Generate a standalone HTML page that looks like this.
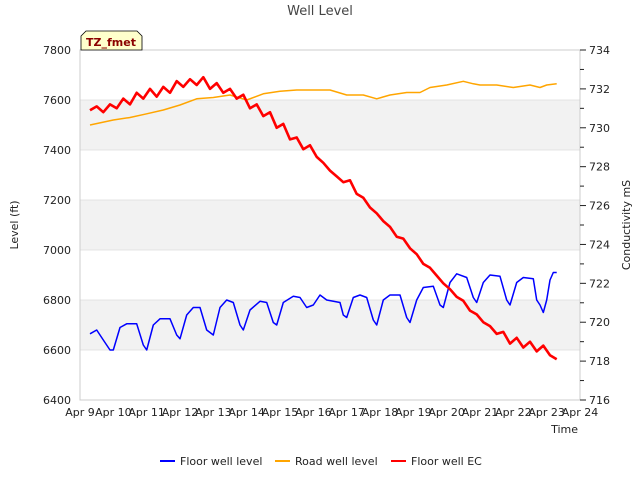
<!DOCTYPE html>
<html><head><meta charset="utf-8"><style>
body{margin:0;background:#fff;font-family:"DejaVu Sans","Liberation Sans",sans-serif}
svg text{font-family:"DejaVu Sans","Liberation Sans",sans-serif}
</style></head><body>
<svg id="c" width="640" height="480" viewBox="0 0 640 480" xmlns="http://www.w3.org/2000/svg">
<text x="320" y="15" text-anchor="middle" font-size="13" fill="#444">Well Level</text>
<g id="bands"></g><g id="grid"></g><g id="axes"></g><g id="series"></g>
<text x="18" y="225" font-size="11" fill="#222" text-anchor="middle" transform="rotate(-90 18 225)">Level (ft)</text>
<text x="630" y="225" font-size="11" fill="#222" text-anchor="middle" transform="rotate(-90 630 225)">Conductivity mS</text>
<text x="578" y="433" font-size="11" fill="#222" text-anchor="end">Time</text>
<g>
<path d="M81 50 L81 36 L86 31 L137 31 L142 36 L142 50 Z" fill="#ffffcc" stroke="#000" stroke-width="0.8"/>
<text x="111" y="46" text-anchor="middle" font-size="11" font-weight="bold" fill="#8b0000">TZ_fmet</text>
</g>
<g>
<g><line x1="160" y1="461" x2="175" y2="461" stroke="#0000ff" stroke-width="2"/><text x="180" y="465" font-size="11" fill="#222">Floor well level</text></g>
<g><line x1="275" y1="461" x2="290" y2="461" stroke="#ffa500" stroke-width="2"/><text x="295" y="465" font-size="11" fill="#222">Road well level</text></g>
<g><line x1="391" y1="461" x2="406" y2="461" stroke="#ff0000" stroke-width="2"/><text x="411" y="465" font-size="11" fill="#222">Floor well EC</text></g>
</g>
</svg>
<script>
const xTickLabels=["Apr 9","Apr 10","Apr 11","Apr 12","Apr 13","Apr 14","Apr 15","Apr 16","Apr 17","Apr 18","Apr 19","Apr 20","Apr 21","Apr 22","Apr 23","Apr 24"];
const yTicks=[6400,6600,6800,7000,7200,7400,7600,7800];
const y2Ticks=[716,718,720,722,724,726,728,730,732,734];
const floorT=[9.3,9.5,9.7,9.9,10.0,10.2,10.4,10.7,10.9,11.0,11.2,11.4,11.7,11.9,12.0,12.2,12.4,12.6,12.8,13.0,13.2,13.4,13.6,13.8,13.9,14.1,14.4,14.6,14.8,14.9,15.1,15.4,15.6,15.8,16.0,16.2,16.4,16.8,16.9,17.0,17.2,17.4,17.6,17.8,17.9,18.1,18.3,18.6,18.8,18.9,19.1,19.3,19.6,19.8,19.9,20.1,20.3,20.6,20.8,20.9,21.1,21.3,21.6,21.8,21.9,22.1,22.3,22.6,22.7,22.8,22.9,23.0,23.1,23.2,23.3];
const floorLevel=[6665,6680,6640,6600,6600,6690,6705,6705,6620,6600,6700,6725,6725,6660,6645,6740,6770,6770,6680,6660,6770,6800,6790,6700,6680,6760,6795,6790,6710,6700,6790,6815,6810,6770,6780,6820,6800,6790,6740,6730,6810,6820,6810,6720,6700,6800,6820,6820,6730,6710,6800,6850,6855,6780,6770,6870,6905,6890,6810,6790,6870,6900,6895,6800,6780,6870,6890,6885,6800,6780,6750,6800,6880,6910,6910];
const roadT=[9.3,10,10.5,11,11.5,12,12.5,13,13.5,14,14.5,15,15.5,16,16.5,17,17.5,17.9,18.3,18.8,19.2,19.5,20,20.5,20.8,21,21.5,22,22.5,22.8,23,23.3];
const roadLevel=[7500,7520,7530,7545,7560,7580,7605,7610,7620,7600,7625,7635,7640,7640,7640,7620,7620,7605,7620,7630,7630,7650,7660,7675,7665,7660,7660,7650,7660,7650,7660,7665];
const ecT0=9.3, ecStep=0.2;
const floorEC=[730.9,731.1,730.8,731.2,731.0,731.5,731.2,731.8,731.5,732.0,731.6,732.1,731.8,732.4,732.1,732.5,732.2,732.6,732.0,732.3,731.8,732.0,731.5,731.7,731.0,731.2,730.6,730.8,730.0,730.2,729.4,729.5,728.9,729.1,728.5,728.2,727.8,727.5,727.2,727.3,726.6,726.4,725.9,725.6,725.2,724.9,724.4,724.3,723.8,723.5,723.0,722.8,722.4,722.0,721.7,721.3,721.1,720.6,720.4,720.0,719.8,719.4,719.5,718.9,719.2,718.7,719.0,718.5,718.8,718.3,718.1];
const L=80,R=580,T=50,B=400,NS="http://www.w3.org/2000/svg";
const xs=d=>L+(d-9)*(R-L)/15;
const ys=v=>B-(v-6400)*(B-T)/1400;
const ys2=v=>B-(v-716)*(B-T)/18;
function mk(tag,at,par){const e=document.createElementNS(NS,tag);for(const k in at)e.setAttribute(k,at[k]);document.getElementById(par).appendChild(e);return e;}
for(let i=0;i<yTicks.length-1;i++){if(i%2===1){const r=mk('rect',{x:L,y:ys(yTicks[i+1]),width:R-L,height:ys(yTicks[i])-ys(yTicks[i+1]),fill:'#f2f2f2'},'bands');

}}
yTicks.forEach(v=>{const l=mk('line',{x1:L,x2:R,y1:ys(v),y2:ys(v),stroke:'#dcdcdc','stroke-width':0.8},'grid');


const t=mk('text',{x:L-9,y:ys(v)+4,'text-anchor':'end','font-size':11,fill:'#222'},'axes');t.textContent=v;

});
const fr=mk('rect',{x:L,y:T,width:R-L,height:B-T,fill:'none',stroke:'#ccc','stroke-width':1},'axes');


for(let v=716;v<=734;v++){const tk=mk('line',{x1:R,x2:R+(v%2?4:6),y1:ys2(v),y2:ys2(v),stroke:'#222','stroke-width':1},'axes');

}
y2Ticks.forEach(v=>{const t=mk('text',{x:R+9,y:ys2(v)+4,'font-size':11,fill:'#222'},'axes');t.textContent=v;

});
xTickLabels.forEach((s,i)=>{const t=mk('text',{x:xs(9+i),y:416,'text-anchor':'middle','font-size':11,fill:'#222'},'axes');t.textContent=s;

});
function line(xa,ya,fx,fy,col,name,w){const p=mk('polyline',{points:xa.map((t,i)=>fx(t).toFixed(1)+','+fy(ya[i]).toFixed(1)).join(' '),fill:'none',stroke:col,'stroke-width':w,'stroke-linejoin':'round'},'series');

}
line(roadT,roadLevel,xs,ys,'#ffa500','road-well-level-line',1.5);
line(floorT,floorLevel,xs,ys,'#0000ff','floor-well-level-line',1.5);
line(floorEC.map((v,i)=>ecT0+i*ecStep),floorEC,xs,ys2,'#ff0000','floor-well-ec-line',2.6);
</script>
</body></html>
